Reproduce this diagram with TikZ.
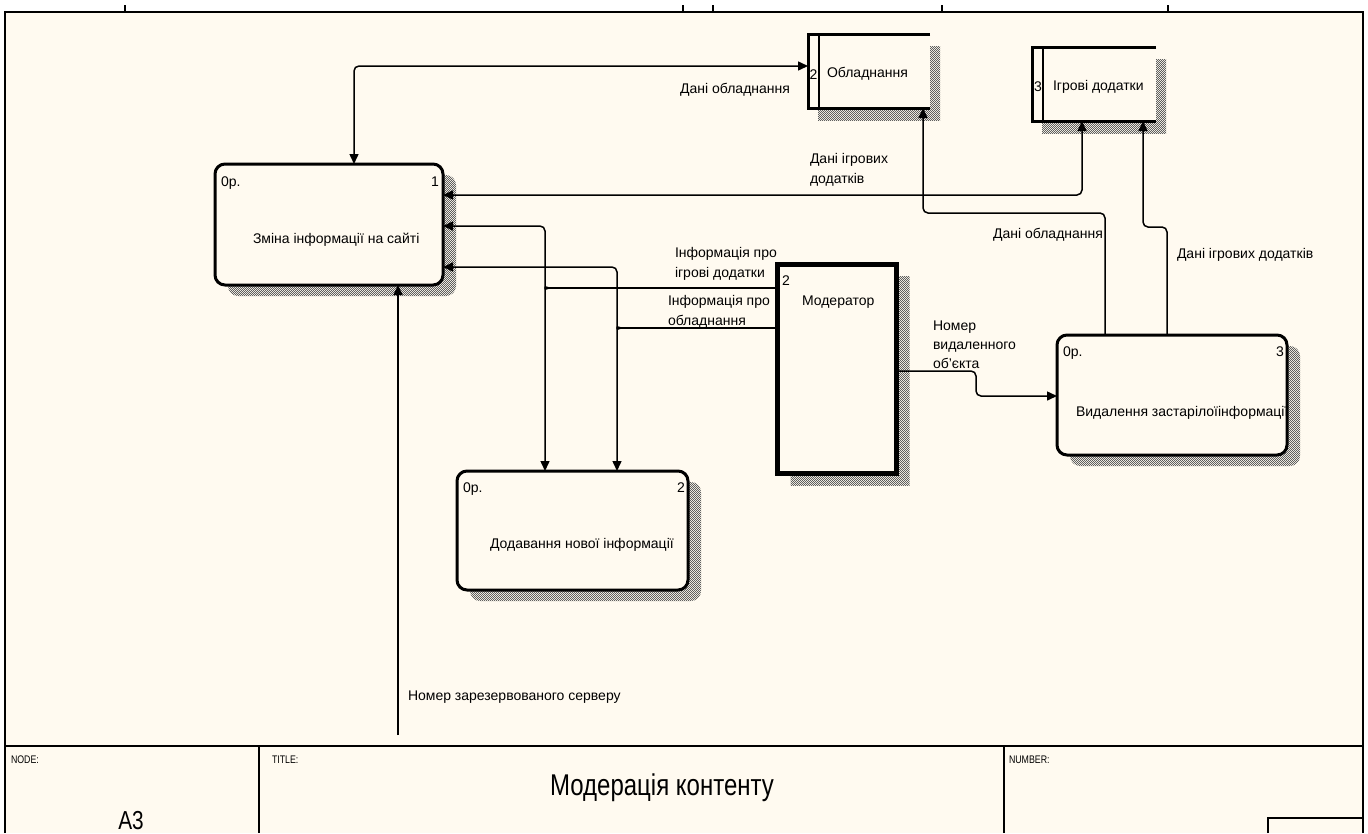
\documentclass[tikz,border=0pt]{standalone}
\usepackage{fontspec}
\setmainfont{Liberation Sans}
\newfontfamily\condfont[FakeStretch=0.8]{Liberation Sans}
\usetikzlibrary{arrows.meta,patterns,backgrounds}
\definecolor{paper}{RGB}{255,250,240}
\definecolor{hatch}{RGB}{95,95,95}
% small checkerboard used for the drop shadows
\pgfdeclarepatternformonly{shadechecker}{\pgfqpoint{0pt}{0pt}}{\pgfqpoint{2.4pt}{2.4pt}}{\pgfqpoint{2.4pt}{2.4pt}}{%
  \pgfpathrectangle{\pgfqpoint{0pt}{0pt}}{\pgfqpoint{1.2pt}{1.2pt}}%
  \pgfpathrectangle{\pgfqpoint{1.2pt}{1.2pt}}{\pgfqpoint{1.2pt}{1.2pt}}%
  \pgfusepath{fill}}
\begin{document}
\begin{tikzpicture}[x=1pt,y=-1pt,
  >={Triangle[length=10pt,width=9pt]},
  every node/.style={inner sep=0pt,outer sep=0pt},
  txt/.style={font=\fontsize{14}{16}\selectfont},
  small/.style={font=\condfont\fontsize{11}{12}\selectfont},
  proc/.style={draw,line width=3pt,rounded corners=10pt,fill=paper},
  actor/.style={draw,line width=5pt,fill=paper},
  store/.style={fill=paper},
  hatched/.style={pattern=shadechecker,pattern color=hatch},
  flow/.style={line width=1.5pt,rounded corners=5pt},
  frameline/.style={line width=1.8pt},
  thin/.style={line width=1.2pt},
]
\useasboundingbox (0,0) rectangle (1368,833);

% ---------- processes, external entity and data stores ----------
\node[proc,minimum width=228pt,minimum height=121pt] (b1) at (329,224.5) {};
\node[proc,minimum width=231pt,minimum height=119pt] (b2) at (572.5,530.5) {};
\node[proc,minimum width=230pt,minimum height=120pt] (b3) at (1172,395) {};
\node[actor,minimum width=119pt,minimum height=209pt] (mod) at (837,369) {};
\node[store,minimum width=122pt,minimum height=74pt] (st1) at (869,71) {};
\node[store,minimum width=124pt,minimum height=74pt] (st2) at (1094,84) {};

% data store outlines (open on the right)
\foreach \s in {st1,st2}{
  \draw[line width=3pt] (\s.north east) -- (\s.north west) -- (\s.south west) -- (\s.south east);
  \draw[line width=2.5pt] ([xshift=11pt]\s.north west) -- ([xshift=11pt]\s.south west);
}

% paper and hatched drop shadows
\begin{scope}[on background layer]
  \fill[white] (0,0) rectangle (1368,833);
  \fill[paper] (5,12) rectangle (1363,833);
  \foreach \b in {b1,b2,b3}
    \fill[hatched,rounded corners=10pt] ([shift={(13,11)}]\b.north west) rectangle ([shift={(13,11)}]\b.south east);
  \fill[hatched] ([shift={(13,12)}]mod.north west) rectangle ([shift={(13,12)}]mod.south east);
  \foreach \s in {st1,st2}
    \fill[hatched] ([shift={(10,12)}]\s.north west) rectangle ([shift={(10,12)}]\s.south east);
\end{scope}

% ---------- texts inside the shapes ----------
\node[txt,anchor=base west] (b1c) at (221,186) {0p.};
\node[txt,anchor=base east] (b1n) at (439,186) {1};
\node[txt,anchor=base west] (b1t) at (253,243) {Зміна інформації на сайті};
\node[txt,anchor=base west] (b2c) at (463,492) {0p.};
\node[txt,anchor=base east] (b2n) at (685,492) {2};
\node[txt,anchor=base west] (b2t) at (490,548) {Додавання нової інформації};
\node[txt,anchor=base west] (b3c) at (1063,356) {0p.};
\node[txt,anchor=base east] (b3n) at (1284,356) {3};
\node[txt,anchor=base west] (b3t) at (1076,416) {Видалення застарілоїінформації};
\node[txt,anchor=base west] (modn) at (782,285) {2};
\node[txt,anchor=base west] (modt) at (802,305) {Модератор};
\node[txt,anchor=base] (st1n) at (813.5,79) {2};
\node[txt,anchor=base west] (st1t) at (827,77) {Обладнання};
\node[txt,anchor=base] (st2n) at (1038,91) {3};
\node[txt,anchor=base west] (st2t) at (1053,90) {Ігрові додатки};

% ---------- data flows ----------
\draw[flow,<->] (b1.north -| 354,0) |- (st1.west |- 0,66);
\draw[flow,<->] (b1.east |- 0,195) -| (st2.south -| 1082,0);
\draw[flow,->] (b3.north -| 1105,0) |- (923,213) -- (st1.south -| 923,0);
\draw[flow,->] (b3.north -| 1167,0) -- (1167,227) -- (1143,227) -- (st2.south -| 1143,0);
\coordinate (srv) at (398,735);
\draw[flow,->] (srv) -- (b1.south -| srv);
\draw[flow,->] (mod.east |- 0,371) -| (976,396) -- (b3.west |- 0,396);

% flows leaving the moderator split towards both processes
\draw[flow] (mod.west |- 0,288) -- (549,288);
\draw[flow,->] (549,288) to[out=180,in=-90] (545,283) |- (b1.east |- 0,226);
\draw[flow,->] (549,288) to[out=180,in=90] (545,293) -- (b2.north -| 545,0);
\draw[flow] (mod.west |- 0,328) -- (621,328);
\draw[flow,->] (621,328) to[out=180,in=-90] (617,323) |- (b1.east |- 0,267);
\draw[flow,->] (621,328) to[out=180,in=90] (617,333) -- (b2.north -| 617,0);

% ---------- flow labels ----------
\node[txt,anchor=base east] (f1) at (790,93) {Дані обладнання};
\node[txt,anchor=base west] (f2a) at (810,163) {Дані ігрових};
\node[txt,anchor=base west] (f2b) at (810,183) {додатків};
\node[txt,anchor=base east] (f3) at (1103,238) {Дані обладнання};
\node[txt,anchor=base west] (f4) at (1177,258) {Дані ігрових додатків};
\node[txt,anchor=base west] (f5a) at (675,257) {Інформація про};
\node[txt,anchor=base west] (f5b) at (675,277) {ігрові додатки};
\node[txt,anchor=base west] (f6a) at (668,305) {Інформація про};
\node[txt,anchor=base west] (f6b) at (668,325) {обладнання};
\node[txt,anchor=base west] (f7a) at (933,330) {Номер};
\node[txt,anchor=base west] (f7b) at (933,349) {видаленного};
\node[txt,anchor=base west] (f7c) at (933,368) {об'єкта};
\node[txt,anchor=base west] (f8) at (408,700) {Номер зарезервованого серверу};

% ---------- frame and title block ----------
\draw[frameline] (5,833) -- (5,12) -- (1363,12) -- (1363,833);
\foreach \t in {125,683,713,942,1168} \draw[thin] (\t,5) -- (\t,12);
\draw[frameline] (5,746) -- (1363,746);
\draw[thin] (259,746) -- (259,833);
\draw[thin] (1004,746) -- (1004,833);
\draw[thin] (1268,833) -- (1268,818) -- (1363,818);
\node[small,anchor=base west] (tn) at (11,763) {NODE:};
\node[small,anchor=base west] (tt) at (272,763) {TITLE:};
\node[small,anchor=base west] (tm) at (1009,763) {NUMBER:};
\node[font=\condfont\fontsize{30}{32}\selectfont,anchor=base] (title) at (662,795) {Модерація контенту};
\node[font=\condfont\fontsize{26}{28}\selectfont,anchor=base] (nodeid) at (131,829) {A3};
\end{tikzpicture}
\end{document}
